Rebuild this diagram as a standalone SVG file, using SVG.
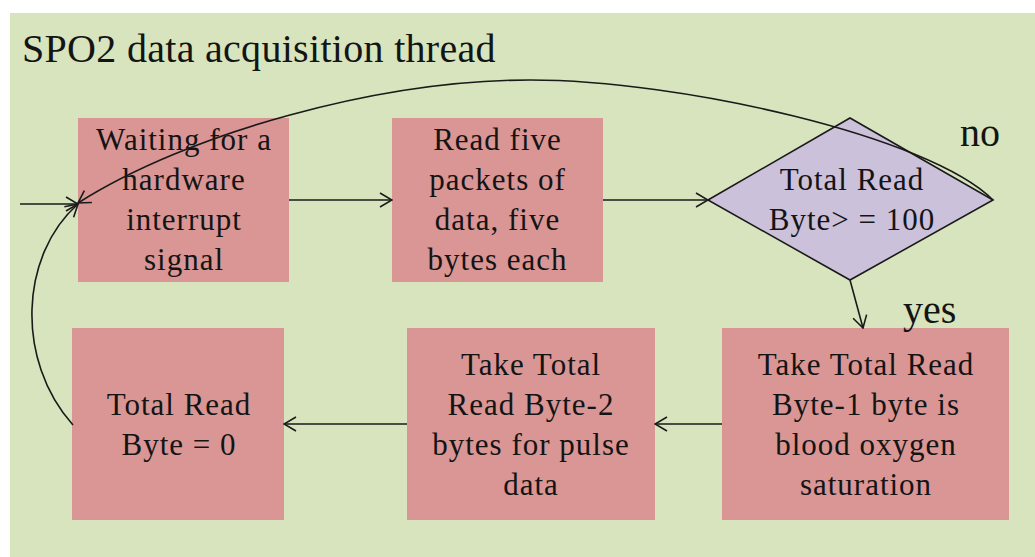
<svg xmlns="http://www.w3.org/2000/svg" width="1035" height="557" viewBox="0 0 1035 557">
  <style>
    .box { fill: #d99694; }
    .decision { fill: #ccc1da; stroke: #1a1a1a; stroke-width: 1.6; }
    .lbl { font-family: "Liberation Serif", "Times New Roman", serif; font-size: 31px; fill: #141414; text-anchor: middle; letter-spacing: 1px; }
    .big { font-family: "Liberation Serif", "Times New Roman", serif; font-size: 40px; fill: #141414; }
    .title { letter-spacing: 0.3px; }
    .edge { fill: none; stroke: #1a1a1a; stroke-width: 1.6; marker-end: url(#arrow); }
  </style>
  <defs>
    <marker id="arrow" viewBox="0 0 14 16" refX="13" refY="8" markerWidth="14" markerHeight="16" markerUnits="userSpaceOnUse" orient="auto">
      <path d="M1,1 L13,8 L1,15" fill="none" stroke="#1a1a1a" stroke-width="1.6"/>
    </marker>
  </defs>

  <rect width="1035" height="557" fill="#ffffff"/>
  <rect x="10" y="13" width="1025" height="544" fill="#d7e4bd"/>

  <text class="big title" x="22" y="62">SPO2 data acquisition thread</text>

  <g id="wait">
    <rect class="box" x="78" y="118" width="211" height="164"/>
    <text class="lbl" x="184" y="150">Waiting for a</text>
    <text class="lbl" x="184" y="190">hardware</text>
    <text class="lbl" x="184" y="230">interrupt</text>
    <text class="lbl" x="184" y="270">signal</text>
  </g>

  <g id="read">
    <rect class="box" x="392" y="118" width="211" height="164"/>
    <text class="lbl" x="497.5" y="150">Read five</text>
    <text class="lbl" x="497.5" y="190">packets of</text>
    <text class="lbl" x="497.5" y="230">data, five</text>
    <text class="lbl" x="497.5" y="270">bytes each</text>
  </g>

  <g id="check">
    <polygon class="decision" points="708,200 850,118 993,200 850,280"/>
    <text class="lbl" x="852" y="190">Total Read</text>
    <text class="lbl" x="852" y="230">Byte&gt; = 100</text>
  </g>

  <g id="oxygen">
    <rect class="box" x="722" y="328" width="287" height="192"/>
    <text class="lbl" x="866" y="375">Take Total Read</text>
    <text class="lbl" x="866" y="415">Byte-1 byte is</text>
    <text class="lbl" x="866" y="455">blood oxygen</text>
    <text class="lbl" x="866" y="495">saturation</text>
  </g>

  <g id="pulse">
    <rect class="box" x="407" y="328" width="248" height="192"/>
    <text class="lbl" x="531" y="375">Take Total</text>
    <text class="lbl" x="531" y="415">Read Byte-2</text>
    <text class="lbl" x="531" y="455">bytes for pulse</text>
    <text class="lbl" x="531" y="495">data</text>
  </g>

  <g id="reset">
    <rect class="box" x="72" y="328" width="212" height="192"/>
    <text class="lbl" x="179" y="415">Total Read</text>
    <text class="lbl" x="179" y="455">Byte = 0</text>
  </g>

  <g id="connectors">
    <path class="edge" d="M20,204 L78,204"/>
    <path class="edge" d="M289,200 L392,200"/>
    <path class="edge" d="M603,200 L708,200"/>
    <path class="edge" d="M993,200 C929,136 680,80 530,80 C380,80 188,133 78,203"/>
    <path class="edge" d="M850,280 L863,328"/>
    <path class="edge" d="M722,424 L655,424"/>
    <path class="edge" d="M407,424 L284,424"/>
    <path class="edge" d="M73,425 C15,360 20,255 78,204"/>
    <text class="big" x="960" y="146">no</text>
    <text class="big" x="903" y="323">yes</text>
  </g>
</svg>
